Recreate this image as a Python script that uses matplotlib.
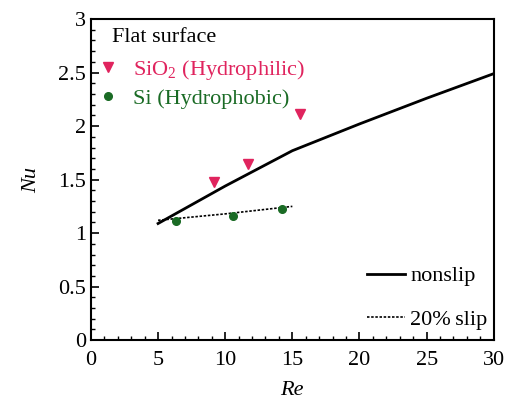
import matplotlib
matplotlib.use("Agg")
import matplotlib.pyplot as plt
from matplotlib.ticker import MultipleLocator

plt.rcParams['font.family'] = ['Liberation Serif', 'DejaVu Serif']
plt.rcParams['mathtext.fontset'] = 'custom'
plt.rcParams['mathtext.rm'] = 'Liberation Serif'
plt.rcParams['mathtext.it'] = 'Liberation Serif:italic'

# data
re_nonslip = [5, 10, 15, 20, 25, 30]
nu_nonslip = [1.09, 1.44, 1.77, 2.02, 2.26, 2.49]
re_slip = [5, 10, 15]
nu_slip = [1.12, 1.18, 1.25]
re_sio2 = [9.2, 11.7, 15.6]
nu_sio2 = [1.48, 1.65, 2.11]
re_si = [6.3, 10.6, 14.2]
nu_si = [1.11, 1.16, 1.23]

pink = '#e0245e'
green = '#1a6b25'
FS = 16

fig = plt.figure(figsize=(5.08, 4.05), dpi=100)
ax = fig.add_axes([0.179, 0.160, 0.793, 0.793])

l1, = ax.plot(re_nonslip, nu_nonslip, color='black', lw=2, label='nonslip')
l2, = ax.plot(re_slip, nu_slip, color='black', lw=1.2, ls=(0, (1.5, 1)), label='20%\u2009slip')
m1, = ax.plot(re_sio2, nu_sio2, ls='none', marker='v', ms=7, color=pink, label='SiO$_2$ (Hydrophilic)')
m2, = ax.plot(re_si, nu_si, ls='none', marker='o', ms=5.5, color=green, label='Si (Hydrophobic)')

ax.set_xlim(0, 30)
ax.set_ylim(0, 3)
ax.xaxis.set_major_locator(MultipleLocator(5))
ax.xaxis.set_minor_locator(MultipleLocator(1))
ax.yaxis.set_major_locator(MultipleLocator(0.5))
ax.yaxis.set_minor_locator(MultipleLocator(0.1))
ax.tick_params(which='both', direction='in', labelsize=FS, top=False, right=False)
ax.tick_params(which='major', length=6, width=1.2)
ax.tick_params(which='minor', length=3, width=1)
ax.tick_params(axis='x', pad=8)
for s in ax.spines.values():
    s.set_linewidth(1.5)
ax.set_xticklabels([f'{v:g}' for v in ax.get_xticks()])
ax.set_yticklabels([f'{v:g}' for v in ax.get_yticks()])

ax.set_xlabel('Re', style='italic', fontsize=FS, labelpad=8)
ax.set_ylabel('Nu', style='italic', fontsize=FS, labelpad=12)

ax.text(0.052, 0.944, 'Flat surface', transform=ax.transAxes, fontsize=FS,
        ha='left', va='center')

leg1 = ax.legend(handles=[m1, m2], loc='upper left', frameon=False, fontsize=FS,
                 handlelength=1.0, handletextpad=0.6, labelspacing=0.3,
                 borderpad=0.0, borderaxespad=0.0,
                 bbox_to_anchor=(0.015, 0.879))
for t, c in zip(leg1.get_texts(), [pink, green]):
    t.set_color(c)
ax.add_artist(leg1)

ax.legend(handles=[l1, l2], loc='lower right', frameon=False, fontsize=FS,
          handlelength=1.7, handletextpad=0.25, labelspacing=1.05,
          borderpad=0.0, borderaxespad=0.0, bbox_to_anchor=(0.985, 0.031))

fig.savefig('out.png', dpi=100)
